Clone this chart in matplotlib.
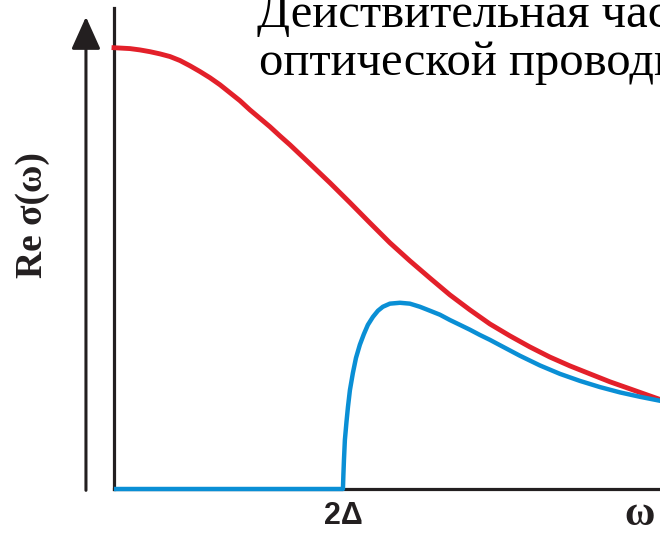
import numpy as np
import matplotlib.pyplot as plt

# частота в единицах щели (2Δ = 2), проводимость в единицах σ(0)
omega_normal = [0.000, 0.070, 0.140, 0.227, 0.314, 0.402, 0.489, 0.576, 0.664, 0.751,
                0.838, 0.926, 1.013, 1.100, 1.188, 1.275, 1.362, 1.450, 1.537, 1.712,
                1.886, 2.061, 2.236, 2.410, 2.585, 2.760, 2.934, 3.109, 3.284, 3.459,
                3.633, 3.808, 3.983, 4.157, 4.332, 4.507, 4.681, 4.856]
sigma_normal = [1.000, 0.999, 0.998, 0.995, 0.991, 0.986, 0.980, 0.971, 0.959, 0.946,
                0.932, 0.916, 0.898, 0.880, 0.859, 0.840, 0.821, 0.800, 0.780, 0.737,
                0.694, 0.649, 0.603, 0.558, 0.517, 0.478, 0.440, 0.406, 0.374, 0.347,
                0.322, 0.299, 0.279, 0.261, 0.243, 0.227, 0.211, 0.195]

omega_sc = [0.000, 2.000, 2.004, 2.009, 2.017, 2.031, 2.044, 2.061, 2.087, 2.114,
            2.148, 2.183, 2.218, 2.262, 2.306, 2.349, 2.410, 2.498, 2.585, 2.672,
            2.760, 2.847, 2.934, 3.022, 3.109, 3.197, 3.284, 3.371, 3.546, 3.721,
            3.895, 4.070, 4.245, 4.419, 4.594, 4.769, 4.856]
sigma_sc = [0.000, 0.000, 0.032, 0.066, 0.111, 0.152, 0.186, 0.224, 0.263, 0.297,
            0.327, 0.351, 0.372, 0.390, 0.404, 0.413, 0.420, 0.422, 0.420, 0.413,
            0.404, 0.395, 0.383, 0.372, 0.361, 0.349, 0.338, 0.326, 0.302, 0.280,
            0.261, 0.245, 0.231, 0.219, 0.209, 0.200, 0.196]

gap = 2.0
title_lines = ["Действительная часть", "оптической проводимости"]
ylabel = "Re σ(ω)"
gap_label = "2Δ"
x_label = "ω"

red = "#e3202a"
blue = "#0a8fd5"
dark = "#231f20"

fig = plt.figure(figsize=(6.6, 5.36), dpi=100)
ax = fig.add_axes([114 / 660, 47 / 536, 546 / 660, 481 / 536])
ax.set_xlim(0, 4.77)
ax.set_ylim(0, 1.09)

for s in ["top", "right"]:
    ax.spines[s].set_visible(False)
for s in ["left", "bottom"]:
    ax.spines[s].set_color(dark)
    ax.spines[s].set_linewidth(2.3)
ax.set_xticks([])
ax.set_yticks([])

ax.plot(omega_normal, sigma_normal, color=red, lw=3.5, clip_on=False, zorder=3,
        solid_joinstyle="round")
ax.plot(omega_sc, sigma_sc, color=blue, lw=3.2, clip_on=False, zorder=4,
        solid_capstyle="butt", solid_joinstyle="round")

# стрелка оси ординат
ax.annotate("", xy=(-0.245, 1.07), xytext=(-0.245, -0.003),
            xycoords="data", annotation_clip=False,
            arrowprops=dict(arrowstyle="-|>,head_length=1.0,head_width=0.45",
                            mutation_scale=20, lw=2.2, color=dark,
                            shrinkA=0, shrinkB=0))

ax.text(gap, -0.061, gap_label, ha="center", va="center", fontsize=22,
        fontweight="bold", family="Liberation Sans", color=dark)
ax.text(4.59, -0.06, x_label, ha="center", va="center", fontsize=30,
        fontweight="bold", family="Liberation Serif", color=dark)

fig.text(32 / 660, 1 - 215 / 536, ylabel, rotation=90, ha="center", va="center",
         fontsize=27, fontweight="bold", family="Liberation Serif", color=dark)

# заголовок в две строки, правый край уходит за границу рисунка
fig.text(257 / 660, 1 - 27 / 536, title_lines[0], ha="left", va="baseline",
         fontsize=35, family="Liberation Serif", color="black")
fig.text(259 / 660, 1 - 75 / 536, title_lines[1], ha="left", va="baseline",
         fontsize=35, family="Liberation Serif", color="black")

fig.savefig("out.png", dpi=100)
